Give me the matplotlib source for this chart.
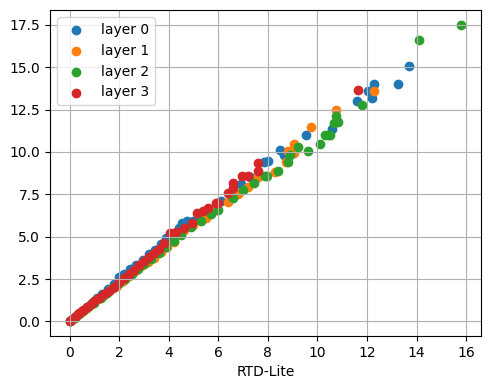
import matplotlib
matplotlib.use("Agg")
import matplotlib.pyplot as plt

x0 = [0, 0.2, 0.35, 0.5, 0.7, 0.9, 1.1, 1.3, 1.55, 1.8, 2.0, 2.2, 2.45, 2.7, 2.95, 3.2, 3.45, 3.7, 3.9, 4.15, 4.4, 4.55, 4.75, 5.0, 5.3, 5.7, 6.1, 6.5, 6.9, 7.3, 7.85, 8.0, 8.5, 8.65, 9.55, 10.57, 11.58, 12.2, 12.06, 12.27, 13.25, 13.7]
y0 = [0, 0.25, 0.42, 0.6, 0.85, 1.1, 1.35, 1.6, 1.9, 2.2, 2.6, 2.8, 3.1, 3.35, 3.65, 3.95, 4.2, 4.55, 4.9, 5.15, 5.5, 5.8, 5.9, 5.95, 6.2, 6.55, 7.1, 7.5, 8.1, 8.55, 9.4, 9.45, 10.1, 9.8, 11.0, 11.35, 13.0, 13.2, 13.6, 14.0, 14.0, 15.05]

x1 = [0, 0.15, 0.3, 0.5, 0.7, 0.9, 1.15, 1.4, 1.65, 1.9, 2.15, 2.4, 2.65, 2.9, 3.15, 3.4, 3.7, 3.95, 4.2, 4.6, 5.0, 5.5, 5.9, 6.4, 6.8, 7.2, 7.6, 8.3, 8.74, 8.83, 9.07, 9.07, 9.76, 10.77, 12.3]
y1 = [0, 0.15, 0.35, 0.55, 0.8, 1.0, 1.3, 1.55, 1.85, 2.1, 2.4, 2.7, 2.95, 3.25, 3.5, 3.75, 4.1, 4.4, 4.7, 5.4, 5.7, 6.1, 6.6, 7.05, 7.5, 7.95, 8.5, 8.8, 9.4, 10.04, 9.92, 10.5, 11.46, 12.46, 13.6]

x2 = [0, 0.2, 0.4, 0.6, 0.8, 1.0, 1.25, 1.5, 1.75, 2.0, 2.25, 2.5, 2.75, 3.0, 3.3, 3.6, 3.9, 4.2, 4.5, 4.9, 5.3, 5.7, 5.97, 6.6, 7.0, 7.45, 7.9, 7.96, 8.4, 8.8, 8.9, 9.23, 9.64, 10.12, 10.32, 10.44, 10.5, 10.69, 10.77, 10.85, 11.82, 14.1, 15.8]
y2 = [0, 0.2, 0.45, 0.65, 0.9, 1.1, 1.4, 1.65, 1.95, 2.25, 2.5, 2.8, 3.1, 3.4, 3.7, 4.05, 4.4, 4.75, 5.1, 5.55, 5.95, 6.35, 6.6, 7.3, 7.75, 8.15, 8.6, 8.6, 8.9, 9.4, 9.8, 10.28, 10.04, 10.5, 11.0, 11.0, 11.0, 11.7, 12.1, 11.8, 12.8, 16.6, 17.5]

x3 = [0, 0.1, 0.25, 0.4, 0.55, 0.7, 0.85, 1.0, 1.2, 1.4, 1.6, 1.8, 2.0, 2.2, 2.4, 2.6, 2.8, 3.0, 3.2, 3.4, 3.6, 3.8, 4.06, 4.3, 4.6, 4.95, 5.16, 5.4, 5.6, 5.9, 6.0, 6.38, 6.58, 6.58, 6.97, 7.2, 7.6, 7.6, 11.62]
y3 = [0, 0.12, 0.3, 0.48, 0.65, 0.82, 1.0, 1.18, 1.4, 1.6, 1.82, 2.05, 2.3, 2.55, 2.8, 3.05, 3.3, 3.55, 3.8, 4.05, 4.3, 4.6, 5.2, 5.3, 5.5, 5.8, 6.4, 6.5, 6.7, 6.98, 7.0, 7.57, 7.87, 8.15, 8.58, 8.6, 8.9, 9.35, 13.64]

labels = ["layer 0", "layer 1", "layer 2", "layer 3"]
xs = [x0, x1, x2, x3]
ys = [y0, y1, y2, y3]

fig, ax = plt.subplots(figsize=(4.9, 3.9), dpi=100)
for x, y, lab in zip(xs, ys, labels):
    ax.scatter(x, y, label=lab)
ax.set_xlabel("RTD-Lite")
ax.grid(True)
ax.legend(loc="upper left")
fig.subplots_adjust(left=0.102, right=0.981, top=0.974, bottom=0.138)
fig.savefig("out.png", dpi=100)
